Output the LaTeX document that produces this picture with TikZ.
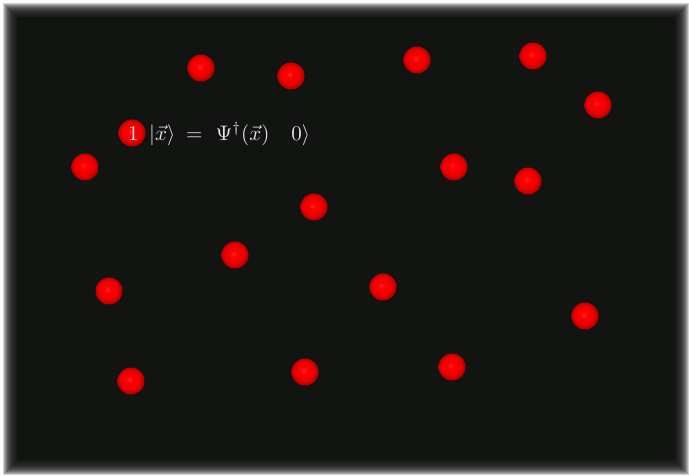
\documentclass[tikz,border=0pt]{standalone}
\usepackage{amsmath}
\definecolor{bgdark}{RGB}{17,20,17}
\pgfdeclareradialshading{redball}{\pgfpoint{-3bp}{3bp}}{%
  color(0bp)=(red!85!white);color(6bp)=(red);color(18bp)=(red!92!black);color(25bp)=(red!70!black);color(50bp)=(red!60!black)}
\begin{document}
\begin{tikzpicture}[x=1pt,y=-1pt,
  ball/.style={circle,minimum size=27pt,inner sep=0pt,shading=redball,draw=none},
  lbl/.style={text=white!90!black,inner sep=0pt,anchor=west}]
\useasboundingbox (0,0) rectangle (689,476);
\fill[white] (0,0) rectangle (689,476);
\foreach \i in {0,...,13}{
  \fill[bgdark,opacity=0.2] (3+\i,3+\i) rectangle (689-\i,475-\i);
}
\fill[bgdark] (17,17) rectangle (676,460);
\node[ball] (b1) at (201,68) {};
\node[ball] (b2) at (291,76) {};
\node[ball] (b3) at (417,60) {};
\node[ball] (b4) at (533,56) {};
\node[ball] (b5) at (598,105) {};
\node[ball] (b6) at (132,133) {};
\node[ball] (b7) at (85,167) {};
\node[ball] (b8) at (454,167) {};
\node[ball] (b9) at (528,181) {};
\node[ball] (b10) at (314,207) {};
\node[ball] (b11) at (235,255) {};
\node[ball] (b12) at (109,291) {};
\node[ball] (b13) at (383,287) {};
\node[ball] (b14) at (585,316) {};
\node[ball] (b15) at (131,381) {};
\node[ball] (b16) at (305,372) {};
\node[ball] (b17) at (452,367) {};
\node[lbl] (eq) at (128,134) {\scalebox{2.1}{$1\hspace{5pt}|\vec{x}\rangle\hspace{2.4pt}=\hspace{3.7pt}\Psi^{\dagger}(\vec{x})\hspace{10.5pt}0\rangle$}};
\end{tikzpicture}
\end{document}
